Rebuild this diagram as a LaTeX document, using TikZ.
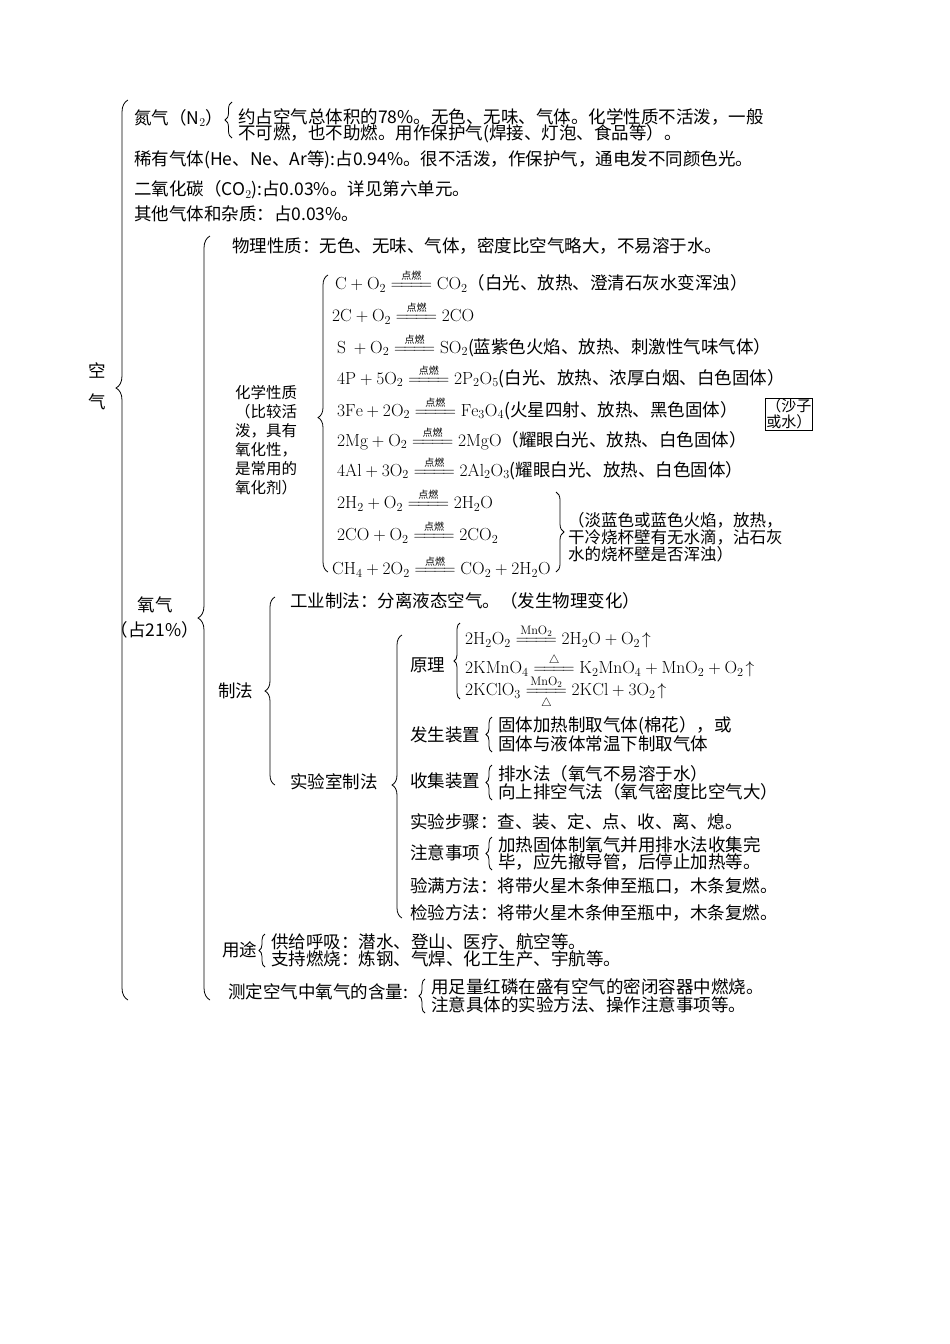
\documentclass[tikz,border=0pt]{standalone}
\usepackage{amsmath}
\usepackage{fontspec}
\newfontfamily\cjk{Noto Sans CJK SC}
\usetikzlibrary{decorations.pathreplacing}
\newcommand\lng{=\!=\!=\!=}
\newcommand\rx{\mathrel{\overset{\mbox{\fontsize{10}{10}\selectfont\cjk 点燃}}{\lng}}}
\newcommand\mrx{\mathrel{\overset{\mathrm{MnO_2}}{\lng}}}
\newcommand\trx{\mathrel{\overset{\triangle}{\lng}}}
\newcommand\mtrx{\mathrel{\underset{\triangle}{\overset{\mathrm{MnO_2}}{\lng}}}}
\begin{document}
\begin{tikzpicture}[x=1pt,y=1pt,
  every node/.style={inner sep=0pt,anchor=west,font=\fontsize{17.5}{17.5}\selectfont\cjk},
  br/.style={decorate,decoration={brace,amplitude=#1},line width=0.8pt},
  br/.default=6pt]
\useasboundingbox (0,0) rectangle (950,-1344);
\fill[white] (0,0) rectangle (950,-1344);
% top
\draw[br=12pt,decoration={aspect=0.68}] (128,-1000) -- (128,-100);
\node[anchor=center] (kong) at (97,-370) {空};
\node[anchor=center] (qi) at (97,-402) {气};
\node (n2) at (134,-118) {氮气（N$_2$）};
\draw[br=7pt] (232,-138) -- (232,-102);
\node (n2a) at (238,-117) {约占空气总体积的78\%。无色、无味、气体。化学性质不活泼，一般};
\node (n2b) at (238,-134) {不可燃，也不助燃。用作保护气(焊接、灯泡、食品等）。};
\node (xy) at (134,-160) {稀有气体(He、Ne、Ar等):占0.94\%。很不活泼，作保护气，通电发不同颜色光。};
\node (co2) at (134,-190) {二氧化碳（CO$_2$):占0.03\%。详见第六单元。};
\node (qt) at (134,-214) {其他气体和杂质：占0.03\%。};
% oxygen
\draw[br=12pt,decoration={aspect=0.5}] (210,-1000) -- (210,-236);
\node[anchor=center] (o2) at (155,-605) {氧气};
\node[anchor=center] (o2b) at (155,-630) {（占21\%）};
\node (wl) at (232,-246) {物理性质：无色、无味、气体，密度比空气略大，不易溶于水。};
% chemical
\node[anchor=center,align=center,text width=68pt,font=\fontsize{15.5}{19}\selectfont\cjk] (hx) at (266,-440) {化学性质\\（比较活\\泼，具有\\氧化性，\\是常用的\\氧化剂）};
\draw[br=10pt,decoration={aspect=0.52}] (328,-572) -- (328,-275);
\node (e1) at (335,-281) {$\mathrm{C+O_2}\rx\mathrm{CO_2}$（白光、放热、澄清石灰水变浑浊）};
\node (e2) at (332,-313) {$\mathrm{2C+O_2}\rx\mathrm{2CO}$};
\node (e3) at (337,-345) {$\mathrm{S\ +O_2}\rx\mathrm{SO_2}$(蓝紫色火焰、放热、刺激性气味气体）};
\node (e4) at (337,-376) {$\mathrm{4P+5O_2}\rx\mathrm{2P_2O_5}$(白光、放热、浓厚白烟、白色固体）};
\node (e5) at (337,-408) {$\mathrm{3Fe+2O_2}\rx\mathrm{Fe_3O_4}$(火星四射、放热、黑色固体）};
\node[draw,line width=0.6pt,inner sep=1pt,align=center,font=\fontsize{15}{16}\selectfont\cjk] (box) at (765,-414) {（沙子\\或水）};
\node (e6) at (337,-438) {$\mathrm{2Mg+O_2}\rx\mathrm{2MgO}$（耀眼白光、放热、白色固体）};
\node (e7) at (337,-468) {$\mathrm{4Al+3O_2}\rx\mathrm{2Al_2O_3}$(耀眼白光、放热、白色固体）};
\node (e8) at (337,-500) {$\mathrm{2H_2+O_2}\rx\mathrm{2H_2O}$};
\node (e9) at (337,-532) {$\mathrm{2CO+O_2}\rx\mathrm{2CO_2}$};
\node (e10) at (332,-566) {$\mathrm{CH_4+2O_2}\rx\mathrm{CO_2+2H_2O}$};
\draw[br=8pt] (556,-492) -- (556,-572);
\node[align=left,font=\fontsize{16.5}{17}\selectfont\cjk] (fl) at (568,-537) {（淡蓝色或蓝色火焰，放热，\\干冷烧杯壁有无水滴，沾石灰\\水的烧杯壁是否浑浊）};
% preparation
\draw[br=10pt] (275,-785) -- (275,-597);
\node (zf) at (218,-691) {制法};
\node (gy) at (290,-601) {工业制法：分离液态空气。（发生物理变化）};
\node (sy) at (290,-782) {实验室制法};
\draw[br=10pt,decoration={aspect=0.47}] (402,-918) -- (402,-635);
\node (yl) at (410,-665) {原理};
\draw[br=6pt] (460,-699) -- (460,-623);
\node (r1) at (465,-636) {$\mathrm{2H_2O_2}\mrx\mathrm{2H_2O+O_2}\!\uparrow$};
\node (r2) at (465,-665) {$\mathrm{2KMnO_4}\trx\mathrm{K_2MnO_4+MnO_2+O_2}\!\uparrow$};
\node (r3) at (465,-693) {$\mathrm{2KClO_3}\mtrx\mathrm{2KCl+3O_2}\!\uparrow$};
\node (fs) at (410,-735) {发生装置};
\draw[br=6pt] (492,-752) -- (492,-717);
\node (fs1) at (498,-726) {固体加热制取气体(棉花），或};
\node (fs2) at (498,-744) {固体与液体常温下制取气体};
\node (sj) at (410,-781) {收集装置};
\draw[br=6pt] (492,-800) -- (492,-765);
\node (sj1) at (498,-774) {排水法（氧气不易溶于水）};
\node (sj2) at (498,-792) {向上排空气法（氧气密度比空气大）};
\node (bz) at (410,-822) {实验步骤：查、装、定、点、收、离、熄。};
\node (zy) at (410,-853) {注意事项};
\draw[br=6pt] (492,-870) -- (492,-837);
\node (zy1) at (498,-845) {加热固体制氧气并用排水法收集完};
\node (zy2) at (498,-862) {毕，应先撤导管，后停止加热等。};
\node (ym) at (410,-886) {验满方法：将带火星木条伸至瓶口，木条复燃。};
\node (jy) at (410,-913) {检验方法：将带火星木条伸至瓶中，木条复燃。};
% uses
\node (yt) at (222,-950) {用途};
\draw[br=6pt] (265,-967) -- (265,-934);
\node (yt1) at (271,-942) {供给呼吸：潜水、登山、医疗、航空等。};
\node (yt2) at (271,-959) {支持燃烧：炼钢、气焊、化工生产、宇航等。};
\node (cd) at (228,-992) {测定空气中氧气的含量:};
\draw[br=6pt] (425,-1013) -- (425,-979);
\node (cd1) at (431,-987) {用足量红磷在盛有空气的密闭容器中燃烧。};
\node (cd2) at (431,-1005) {注意具体的实验方法、操作注意事项等。};
\end{tikzpicture}
\end{document}
